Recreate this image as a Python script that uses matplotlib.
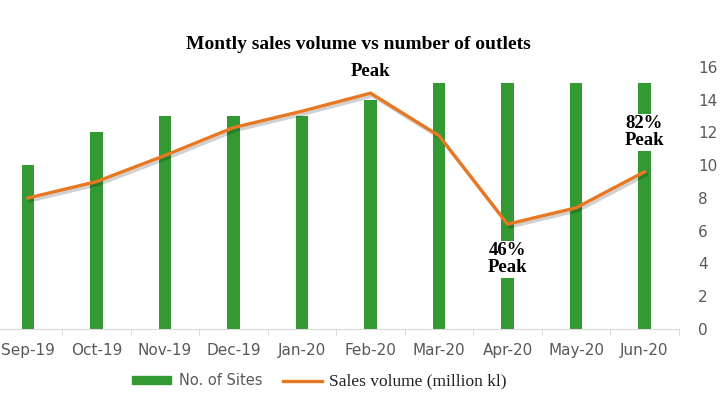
import numpy as np
import matplotlib.pyplot as plt
import matplotlib.patheffects as pe
from matplotlib.lines import Line2D
from matplotlib.patches import Patch

months = ["Sep-19", "Oct-19", "Nov-19", "Dec-19", "Jan-20",
          "Feb-20", "Mar-20", "Apr-20", "May-20", "Jun-20"]
sites = [10, 12, 13, 13, 13, 14, 15, 15, 15, 15]
sales = [8.0, 9.0, 10.6, 12.3, 13.3, 14.4, 11.8, 6.4, 7.4, 9.6]
right_ticks = [0, 2, 4, 6, 8, 10, 12, 14, 16]

GREEN = "#339933"
ORANGE = "#E87722"
GREY = "#595959"


def main():
    fig = plt.figure(figsize=(7.26, 3.94), dpi=100)
    ax = fig.add_axes([-0.0085, 0.165, 0.9435, 0.665])
    x = np.arange(len(months))

    ax.bar(x, sites, width=0.18, color=GREEN, zorder=2)
    ax.plot(x, sales, color=ORANGE, lw=2.4, zorder=3,
            path_effects=[pe.SimpleLineShadow(offset=(1.5, -2), alpha=0.18),
                          pe.Normal()])

    ax.set_xlim(-0.5, len(months) - 0.5)
    ax.set_ylim(0, 16)
    for s in ["top", "left", "right"]:
        ax.spines[s].set_visible(False)
    ax.spines["bottom"].set_color("#d9d9d9")

    ax.set_xticks(x)
    ax.set_xticklabels(months, color=GREY, fontsize=11)
    ax.tick_params(axis="x", length=0, pad=10)
    ax.set_xticks(np.arange(-0.5, len(months)), minor=True)
    ax.tick_params(axis="x", which="minor", length=5, color="#d9d9d9")

    ax.yaxis.tick_right()
    ax.set_yticks(right_ticks)
    ax.set_yticklabels([str(t) for t in right_ticks], color=GREY, fontsize=11)
    ax.tick_params(axis="y", length=0, pad=14)

    bold_serif = dict(family="Liberation Serif", fontweight="bold", fontsize=13.5,
                      ha="center", va="center", linespacing=1.0)
    ax.text(5, 15.75, "Peak", **bold_serif)
    ax.text(7, 4.25, "46%\nPeak", zorder=4,
            bbox=dict(facecolor="white", edgecolor="none", pad=1), **bold_serif)
    ax.text(9, 12.0, "82%\nPeak", zorder=4,
            bbox=dict(facecolor="white", edgecolor="none", pad=1), **bold_serif)

    fig.text(0.493, 0.888, "Montly sales volume vs number of outlets",
             family="Liberation Serif", fontweight="bold", fontsize=14,
             ha="center", va="center")

    handles = [Patch(color=GREEN), Line2D([], [], color=ORANGE, lw=2.4)]
    leg = fig.legend(handles, ["No. of Sites", "Sales volume (million kl)"],
                     loc="center", bbox_to_anchor=(0.44, 0.032), ncol=2,
                     frameon=False, handlelength=2.7, handleheight=0.5,
                     handletextpad=0.5, columnspacing=1.4, fontsize=10.5)
    texts = leg.get_texts()
    texts[0].set_color(GREY)
    texts[1].set_family("Liberation Serif")
    texts[1].set_fontsize(12.5)
    texts[1].set_color("#222222")

    fig.savefig("out.png", dpi=100)


if __name__ == "__main__":
    main()
